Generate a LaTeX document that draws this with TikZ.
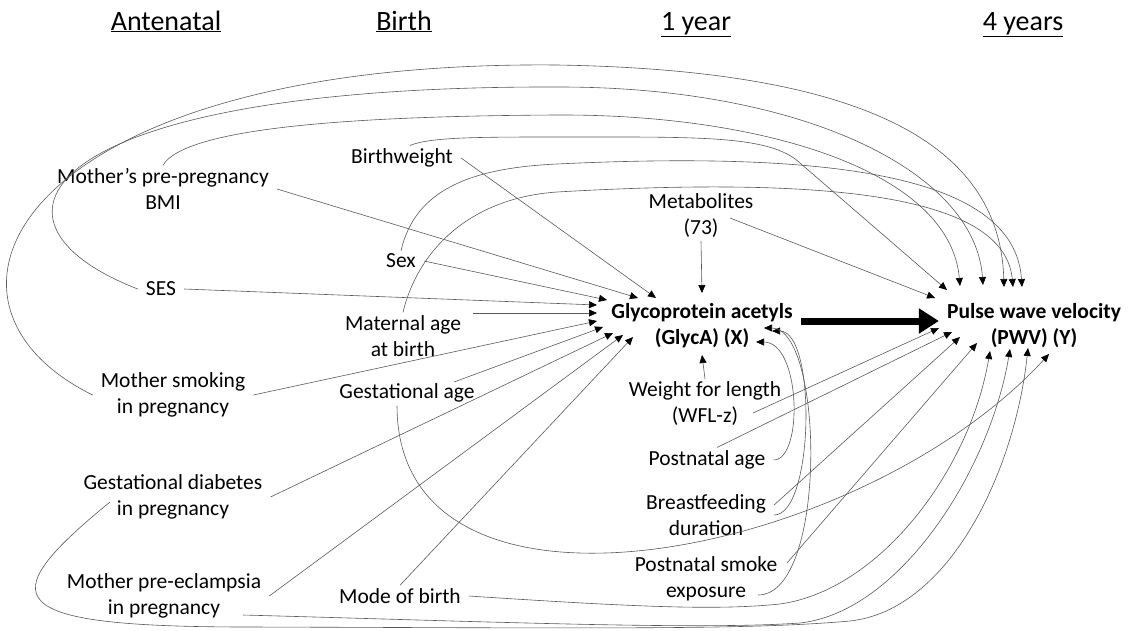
\documentclass[tikz,border=0pt]{standalone}
\usepackage{fontspec}
\setmainfont{Carlito}
\usetikzlibrary{arrows.meta}

\begin{document}
\begin{tikzpicture}[x=1pt, y=-1pt,
    lbl/.style={align=center, inner xsep=8pt, inner ysep=3pt, font=\fontsize{21.5}{26}\selectfont},
    main/.style={lbl, font=\fontsize{21.5}{26}\selectfont\bfseries},
    head/.style={anchor=base, font=\fontsize{28}{34}\selectfont},
    arr/.style={draw=black!65, line width=0.6pt, -{Triangle[length=8pt, width=7pt, color=black]}},
    big/.style={line width=7pt, -{Triangle[length=20pt, width=24pt]}}]
    \useasboundingbox (0,0) rectangle (1129,630);

    % Define nodes
    \node[head] (T1) at (166,30) {\underline{Antenatal}};
    \node[head] (T2) at (404,30) {\underline{Birth}};
    \node[head] (T3) at (696,30) {\underline{1 year}};
    \node[head] (T4) at (1023,30) {\underline{4 years}};

    \node[lbl] (BMI) at (163,189) {Mother’s pre-pregnancy\\BMI};
    \node[lbl] (SES) at (161,289) {SES};
    \node[lbl] (SMK) at (173,395) {Mother smoking\\in pregnancy};
    \node[lbl] (GDM) at (173,497) {Gestational diabetes\\in pregnancy};
    \node[lbl] (PE) at (164,596) {Mother pre-eclampsia\\in pregnancy};

    \node[lbl] (BW) at (402,158) {Birthweight};
    \node[lbl] (SEX) at (401,261) {Sex};
    \node[lbl] (MAGE) at (403,336) {Maternal age\\at birth};
    \node[lbl] (GAGE) at (407,393) {Gestational age};
    \node[lbl] (MOB) at (400,596) {Mode of birth};

    \node[lbl] (MET) at (701,216) {Metabolites\\(73)};
    \node[main] (X) at (702,326) {Glycoprotein acetyls\\(GlycA) (X)};
    \node[lbl] (WFL) at (705,404) {Weight for length\\(WFL-z)};
    \node[lbl] (PAGE) at (707,460) {Postnatal age};
    \node[lbl] (BF) at (706,515) {Breastfeeding\\duration};
    \node[lbl] (PSE) at (706,579) {Postnatal smoke\\exposure};

    \node[main] (Y) at (1034,326) {Pulse wave velocity\\(PWV) (Y)};

    % Draw arrows into X
    \draw[arr] (BW.east) -- ([shift={(-46,-28)}]X.center);
    \draw[arr] (BMI.east) -- ([shift={(-64,-28)}]X.center);
    \draw[arr] (SEX.east) -- ([shift={(-95,-26)}]X.center);
    \draw[arr] (SES.east) -- ([shift={(-105,-21)}]X.center);
    \draw[arr] ([shift={(70,-23)}]MAGE.center) -- ([shift={(-105,-13)}]X.center);
    \draw[arr] (SMK.east) -- ([shift={(-105,-5)}]X.center);
    \draw[arr] ([shift={(47,-11)}]GAGE.center) -- ([shift={(-99,1)}]X.center);
    \draw[arr] (GDM.east) -- ([shift={(-89,7)}]X.center);
    \draw[arr] (PE.east) -- ([shift={(-79,9)}]X.center);
    \draw[arr] (MOB.north) -- ([shift={(-69,11)}]X.center);
    \draw[arr] (MET.south) -- ([shift={(0,-33)}]X.center);
    \draw[arr] (WFL.north) -- ([shift={(0,29)}]X.center);
    \draw[arr] (PAGE.east) .. controls +(30,0) and +(45,0) .. ([shift={(54,16)}]X.center);
    \draw[arr] (BF.east) .. controls +(40,0) and +(45,0) .. ([shift={(70,5)}]X.center);
    \draw[arr] ([shift={(52,16)}]PSE.center) .. controls +(70,0) and +(60,0) .. ([shift={(62,2)}]X.center);

    % Draw arrows into Y
    \draw[arr] ([shift={(29,2)}]MET.center) -- ([shift={(-99,-28)}]Y.center);
    \draw[arr] ([shift={(48,9)}]WFL.center) -- ([shift={(-95,2)}]Y.center);
    \draw[arr] ([shift={(10,0)}]PAGE.north) -- ([shift={(-82,6)}]Y.center);
    \draw[arr] ([shift={(0,-10)}]BF.east) -- ([shift={(-74,11)}]Y.center);
    \draw[arr] ([shift={(81,-16)}]PSE.center) -- ([shift={(-57,17)}]Y.center);

    \draw[arr] (SMK.west) .. controls (-100,300) and (20,60) .. (557,65)
        .. controls (857,70) and (1000,140) .. ([shift={(-30,-39)}]Y.center);
    \draw[arr] (SES.west) .. controls (-40,220) and (40,85) .. (560,87)
        .. controls (800,87) and (975,170) .. ([shift={(-51,-41)}]Y.center);
    \draw[arr] (BMI.north) .. controls (185,128) and (350,116) .. (557,115)
        .. controls (760,114) and (950,170) .. ([shift={(-74,-40)}]Y.center);
    \draw[arr] ([shift={(8,0)}]BW.north) .. controls (430,137) and (480,137) .. (557,137)
        .. controls (700,137) and (770,135) .. (800,163) -- ([shift={(-87,-36)}]Y.center);
    \draw[arr] (SEX.north) .. controls (415,190) and (470,168) .. (557,164)
        .. controls (850,150) and (1015,180) .. ([shift={(-12,-39)}]Y.center);
    \draw[arr] (MAGE.north) .. controls (418,250) and (470,198) .. (557,192)
        .. controls (850,175) and (1005,200) .. ([shift={(-21,-39)}]Y.center);

    \draw[arr] ([shift={(-10,0)}]GAGE.south) .. controls (397,650) and (860,560) .. ([shift={(15,28)}]Y.center);
    \draw[arr] ([shift={(-63,5)}]GDM.center) .. controls (-10,600) and (0,627) .. (250,627)
        .. controls (600,628) and (750,630) .. (850,621)
        .. controls (950,610) and (1015,470) .. ([shift={(-6,22)}]Y.center);
    \draw[arr] ([shift={(79,19)}]PE.center) .. controls (500,622) and (700,630) .. (800,623)
        .. controls (900,612) and (990,470) .. ([shift={(-24,23)}]Y.center);
    \draw[arr] (MOB.east) .. controls (650,608) and (720,610) .. (780,604)
        .. controls (880,590) and (970,470) .. ([shift={(-44,25)}]Y.center);

    % Main effect
    \draw[big] ([shift={(0,-5)}]X.east) -- ([shift={(0,-5)}]Y.west);
\end{tikzpicture}
\end{document}
